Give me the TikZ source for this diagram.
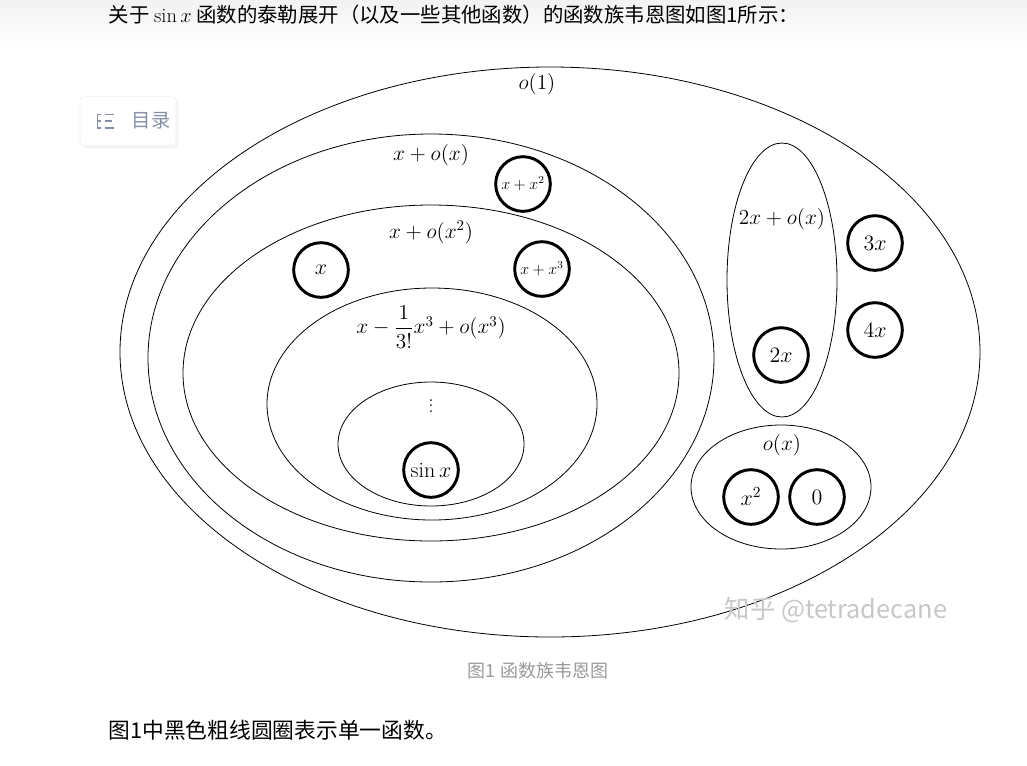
\documentclass[tikz,border=0pt]{standalone}
\usepackage{fontspec}
\usepackage{amsmath}
\usepackage{fix-cm}
\newfontfamily\cjk{Noto Sans CJK SC}
\usetikzlibrary{shapes.geometric,shadows}
\definecolor{tocgray}{HTML}{8590A6}
\definecolor{capgray}{HTML}{999999}

\begin{document}
\begin{tikzpicture}[x=0.75pt,y=-0.75pt,
        family/.style={draw,line width=0.6pt,ellipse,inner sep=0pt},
        single/.style={draw,circle,line width=2.2pt,minimum size=41pt,inner sep=0pt,
            font=\fontsize{16.5pt}{19pt}\selectfont},
        famlabel/.style={font=\fontsize{16pt}{19pt}\selectfont},
        pagetext/.style={font=\cjk\fontsize{16pt}{19pt}\selectfont}]
    \useasboundingbox (0,0) rectangle (1027,765);
    \shade[top color=black!5,bottom color=white] (0,0) rectangle (1027,48);

    \node[anchor=west,pagetext,font=\cjk\fontsize{15.3pt}{18pt}\selectfont] (intro) at (104,15)
        {关于 $\sin x$ 函数的泰勒展开（以及一些其他函数）的函数族韦恩图如图1所示：};

    \node[draw=black!6,fill=white,rounded corners=3pt,minimum width=72pt,minimum height=37pt,
        drop shadow={opacity=0.08}] (tocbox) at (128,121) {};
    \node[anchor=west,text=tocgray,font=\cjk\fontsize{14.5pt}{17pt}\selectfont] (toc) at (127,121) {目录};
    \draw[tocgray,line width=1.1pt] (101,114.5) -- (97.5,114.5) -- (97.5,128) -- (101,128)
        (97.5,121) -- (101,121);
    \draw[tocgray,line width=1.1pt] (105,114.5) -- (114,114.5) (105,121) -- (112,121) (105,128) -- (114,128);

    % families
    \node[family,minimum width=645pt,minimum height=427.5pt] (o1) at (550,352) {};
    \node[family,minimum width=424.5pt,minimum height=336pt] (xox) at (431,358) {};
    \node[family,minimum width=372pt,minimum height=252pt] (xoxx) at (431,373) {};
    \node[family,minimum width=247.5pt,minimum height=174pt] (taylor) at (432,404) {};
    \node[family,minimum width=139.5pt,minimum height=93pt] (dots) at (431,444) {};
    \node[family,minimum width=82.5pt,minimum height=205.5pt] (twox) at (782,280) {};
    \node[family,minimum width=135pt,minimum height=93pt] (ox) at (781,487) {};

    \node[famlabel] (o1lab) at (537,84) {$o(1)$};
    \node[famlabel] (xoxlab) at (431,155) {$x+o(x)$};
    \node[famlabel] (xoxxlab) at (431,232) {$x+o(x^2)$};
    \node[famlabel] (taylorlab) at (431,327) {$x-\dfrac{1}{3!}x^3+o(x^3)$};
    \node[famlabel] (dotslab) at (431,402) {$\vdots$};
    \node[famlabel] (twoxlab) at (782,219) {$2x+o(x)$};
    \node[famlabel] (oxlab) at (782,445) {$o(x)$};

    % single functions
    \node[single,font=\fontsize{12pt}{14pt}\selectfont] (xsq) at (523,184) {$x+x^2$};
    \node[single] (x) at (321,270) {$x$};
    \node[single,font=\fontsize{12pt}{14pt}\selectfont] (xcub) at (542,269) {$x+x^3$};
    \node[single] (sinx) at (431,470) {$\sin x$};
    \node[single] (x2) at (781,355) {$2x$};
    \node[single] (x3) at (875,243) {$3x$};
    \node[single] (x4) at (875,330) {$4x$};
    \node[single] (sq) at (751,497) {$x^2$};
    \node[single] (zero) at (817,497) {$0$};

    \node[anchor=west,text=black!22,font=\cjk\fontsize{19pt}{22pt}\selectfont] (mark) at (720,610) {知乎 @tetradecane};

    \node[text=capgray,font=\cjk\fontsize{13.5pt}{16pt}\selectfont] (caption) at (538,671) {图1 函数族韦恩图};
    \node[anchor=west,pagetext,font=\cjk\fontsize{16.3pt}{19pt}\selectfont] (note) at (104,730) {图1中黑色粗线圆圈表示单一函数。};
\end{tikzpicture}
\end{document}
